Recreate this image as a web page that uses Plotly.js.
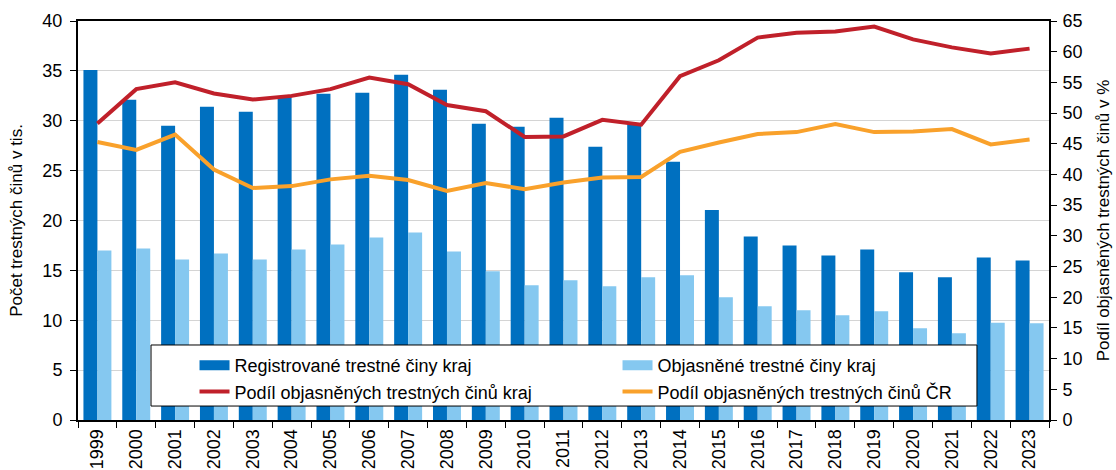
<!DOCTYPE html>
<html>
<head>
<meta charset="utf-8">
<script src="https://cdn.plot.ly/plotly-3.0.1.min.js"></script>
<style>
  html, body { margin: 0; padding: 0; background: #fff; }
  #chart { width: 1116px; height: 470px; }
</style>
</head>
<body>
<div id="chart"></div>
<script>
// Data
const years = ["1999","2000","2001","2002","2003","2004","2005","2006","2007","2008","2009","2010",
  "2011","2012","2013","2014","2015","2016","2017","2018","2019","2020","2021","2022","2023"];

// thousands of crimes
const registrovane = [35.1, 32.1, 29.5, 31.4, 30.9, 32.4, 32.7, 32.8, 34.6, 33.1, 29.7, 29.4,
  30.3, 27.4, 29.7, 25.9, 21.05, 18.4, 17.5, 16.5, 17.1, 14.8, 14.3, 16.3, 16.0];
const objasnene = [17.0, 17.2, 16.1, 16.7, 16.1, 17.1, 17.6, 18.3, 18.8, 16.9, 14.9, 13.5,
  14.0, 13.4, 14.3, 14.5, 12.3, 11.4, 11.0, 10.5, 10.9, 9.2, 8.7, 9.75, 9.7];

// percent
const podilKraj = [48.3, 53.9, 55.0, 53.2, 52.2, 52.8, 53.9, 55.8, 54.7, 51.3, 50.3, 46.1,
  46.2, 48.9, 48.1, 56.0, 58.6, 62.3, 63.1, 63.3, 64.1, 62.0, 60.7, 59.7, 60.5];
const podilCR = [45.3, 44.0, 46.5, 40.8, 37.8, 38.1, 39.2, 39.8, 39.1, 37.3, 38.6, 37.6,
  38.7, 39.5, 39.6, 43.7, 45.2, 46.6, 46.9, 48.2, 46.9, 47.0, 47.4, 44.9, 45.7];

const names = ["Registrované trestné činy kraj", "Objasněné trestné činy kraj",
  "Podíl objasněných trestných činů kraj", "Podíl objasněných trestných činů ČR"];
const colors = ["#0070C0", "#85C8F0", "#C0202A", "#F9A12B"];

const fontFamily = "Liberation Sans, Arial, sans-serif";

var data = [
  { type: "bar", x: years, y: registrovane, name: names[0], showlegend: false,
    marker: { color: colors[0] } },
  { type: "bar", x: years, y: objasnene, name: names[1], showlegend: false,
    marker: { color: colors[1] } },
  { type: "scatter", mode: "lines", x: years, y: podilKraj, yaxis: "y2",
    name: names[2], legendrank: 3,
    line: { color: colors[2], width: 4 } },
  { type: "scatter", mode: "lines", x: years, y: podilCR, yaxis: "y2",
    name: names[3], legendrank: 4,
    line: { color: colors[3], width: 4 } },
  // legend-only entries so the bar keys look like wide blocks
  { type: "scatter", mode: "lines", x: [null], y: [null], name: names[0], legendrank: 1,
    line: { color: colors[0], width: 10 } },
  { type: "scatter", mode: "lines", x: [null], y: [null], name: names[1], legendrank: 2,
    line: { color: colors[1], width: 10 } }
];

var layout = {
  width: 1116,
  height: 470,
  margin: { l: 78, r: 67, t: 21, b: 50 },
  paper_bgcolor: "#fff",
  plot_bgcolor: "#fff",
  font: { family: fontFamily, size: 18, color: "#000" },
  barmode: "group",
  bargap: 0.28,
  bargroupgap: 0,
  showlegend: true,
  legend: {
    orientation: "h",
    x: 0.12, xanchor: "left",
    y: 0.183, yanchor: "top",
    bgcolor: "rgba(0,0,0,0)",
    borderwidth: 0,
    entrywidth: 378,
    entrywidthmode: "pixels",
    font: { size: 18 },
    traceorder: "normal"
  },
  shapes: [{
    type: "rect", xref: "paper", yref: "paper", layer: "above",
    x0: 0.0752, x1: 0.9258, y0: 0.035, y1: 0.188,
    fillcolor: "#fff", line: { color: "#000", width: 1 }
  }],
  xaxis: {
    type: "category",
    tickangle: -90,
    ticks: "outside",
    tickson: "boundaries",
    ticklen: 6,
    tickcolor: "#000",
    showline: true,
    linecolor: "#000",
    linewidth: 2,
    mirror: true,
    showgrid: false,
    tickfont: { size: 18 }
  },
  yaxis: {
    range: [0, 40],
    dtick: 5,
    ticks: "outside",
    ticklen: 6,
    ticklabelstandoff: 4,
    tickcolor: "#000",
    showline: true,
    linecolor: "#000",
    linewidth: 2,
    gridcolor: "#d4d4d4",
    gridwidth: 1,
    zeroline: false,
    title: { text: "Počet trestných činů v tis.", font: { size: 17 }, standoff: 15 }
  },
  yaxis2: {
    overlaying: "y",
    side: "right",
    range: [0, 65],
    dtick: 5,
    ticks: "outside",
    ticklen: 6,
    ticklabelstandoff: 2,
    tickcolor: "#000",
    showline: true,
    linecolor: "#000",
    linewidth: 2,
    showgrid: false,
    zeroline: false,
    title: { text: "Podíl objasněných trestných činů v %", font: { size: 17 }, standoff: 15 }
  }
};

Plotly.newPlot("chart", data, layout, { displayModeBar: false, staticPlot: true });
</script>
</body>
</html>
